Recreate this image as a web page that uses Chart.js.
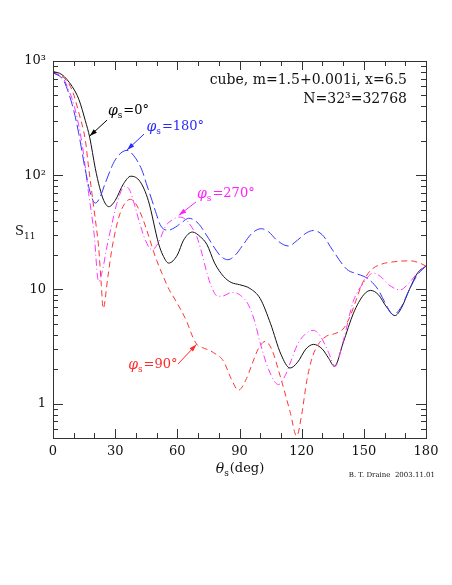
<!DOCTYPE html>
<html>
<head>
<meta charset="utf-8">
<script src="https://cdn.jsdelivr.net/npm/chart.js@4/dist/chart.umd.min.js"></script>
<style>
  body { margin: 0; background: #fff; }
  canvas { display: block; }
</style>
</head>
<body>
<canvas id="chart" width="452" height="585"></canvas>
<script>
// S11 vs scattering angle, cube m=1.5+0.001i, x=6.5
const thetaPhi0 = [0, 4.3, 9.2, 12.5, 15.6, 17.7, 20.4, 22.5, 24.5, 26.9, 30, 34, 37.6, 42, 46, 51, 53, 55.8, 60, 63, 67.3, 71, 74.3, 78, 82.3, 86, 90, 95, 100, 105, 110, 114.4, 118, 122, 125.7, 130, 133, 135.8, 140, 145, 150, 153.3, 157, 161, 165, 168, 172, 176, 180];
const s11Phi0 = [810, 760, 600, 460, 300, 215, 115, 78, 60, 53, 60, 84, 98, 88, 60, 25, 20, 17, 20, 27, 31.8, 29, 24.7, 17, 13, 11.5, 11, 10.2, 8.3, 5, 2.7, 2.05, 2.3, 3.0, 3.3, 3.0, 2.5, 2.12, 3.4, 6.2, 9.0, 9.8, 9.0, 7.0, 5.9, 6.8, 10, 14, 16];

const thetaPhi90 = [0, 5, 9.2, 12.5, 15.6, 17, 18.8, 20.5, 22, 23.3, 24.2, 26.5, 28.6, 31.8, 34.5, 37.3, 40, 43, 46, 47.8, 50, 52.6, 56, 59, 64.6, 67, 69.4, 72, 75, 77.4, 82.3, 86, 89.5, 93, 96, 99, 102.4, 105.5, 109.6, 114.4, 117.6, 120, 122.5, 125, 128, 132, 136, 140, 143, 146, 149, 153, 158, 165, 172, 176, 180];
const s11Phi90 = [790, 720, 556, 350, 203, 125, 69, 40, 23.6, 11, 6.8, 13, 23.6, 43, 56, 61.5, 56, 43, 30, 23.6, 18, 13.8, 10, 8.1, 5.2, 4.0, 3.3, 3.1, 2.95, 2.8, 2.35, 1.65, 1.31, 1.6, 2.2, 3.0, 3.5, 3.0, 1.75, 0.85, 0.52, 0.8, 1.6, 2.5, 3.3, 3.9, 4.1, 4.5, 5.6, 7.8, 11, 14.5, 16.5, 17.5, 17.8, 17.3, 16];

const thetaPhi180 = [0, 5, 7.6, 10, 12.4, 15.6, 18, 20.4, 22.5, 25.2, 30, 35.7, 39, 42.9, 45, 47.8, 50, 52, 55.5, 59, 62.5, 65.5, 70, 74, 78, 81, 84.4, 88, 92, 96, 100.5, 104, 108, 113.6, 118, 122, 125.7, 130, 135, 141.8, 146, 150, 153, 157, 160, 164.2, 168, 172, 176, 180];
const s11Phi180 = [790, 680, 520, 370, 233, 111, 70, 57, 63, 85, 136, 165, 148, 111, 85, 60, 45, 36, 33, 35, 39, 42, 38, 30, 23, 19.5, 18.2, 20, 25, 31, 34, 32, 27, 24, 27, 31, 32.8, 30, 22, 15, 13.8, 13, 12, 9.9, 7.8, 6.0, 7, 10, 13.5, 16];

const thetaPhi270 = [0, 5, 7.6, 10, 14, 17.2, 19.8, 22, 24, 26, 28.5, 31, 34.6, 37, 40, 41.4, 44.6, 47.8, 51, 54.2, 57, 60.7, 64, 67, 69.4, 71.8, 74.3, 76.7, 79.5, 82.5, 86, 88.5, 91, 94, 97, 100, 104, 108.8, 112, 115, 118, 122, 125.7, 129, 133, 136.1, 140, 144.9, 150, 154.6, 158, 162, 167.5, 172, 176, 180];
const s11Phi270 = [790, 700, 556, 420, 190, 69, 31, 11.7, 15, 23.6, 38, 58, 80, 74, 50, 40.5, 27, 22.2, 26, 35.5, 40, 43, 41, 35, 29, 20.8, 13.9, 10.3, 8.7, 8.8, 9.4, 9.3, 8.7, 7.5, 5.5, 3.4, 2.0, 1.47, 1.75, 2.4, 3.3, 4.1, 4.38, 3.9, 2.8, 2.12, 3.5, 7.85, 11.5, 13.9, 13, 11, 9.9, 11.5, 14, 16];

const xTickValues = [0, 30, 60, 90, 120, 150, 180];
const yTickValues = [1, 10, 100, 1000];
const yTickLabels = ['1', '10', '10²', '10³'];

const serif = '"DejaVu Serif", "Liberation Serif", serif';

function toPoints(xs, ys) {
  return xs.map((x, i) => ({ x: x, y: ys[i] }));
}

function drawArrow(ctx, x1, y1, x2, y2, color) {
  ctx.save();
  ctx.strokeStyle = color;
  ctx.fillStyle = color;
  ctx.lineWidth = 1;
  ctx.beginPath();
  ctx.moveTo(x1, y1);
  ctx.lineTo(x2, y2);
  ctx.stroke();
  const a = Math.atan2(y2 - y1, x2 - x1);
  const len = 8, w = 0.3;
  ctx.beginPath();
  ctx.moveTo(x2, y2);
  ctx.lineTo(x2 - len * Math.cos(a - w), y2 - len * Math.sin(a - w));
  ctx.lineTo(x2 - len * Math.cos(a + w), y2 - len * Math.sin(a + w));
  ctx.closePath();
  ctx.fill();
  ctx.restore();
}

// phi_s=... label, pieces drawn one after the other
function drawPhiLabel(ctx, x, y, rest, color, align) {
  const big = '13px ' + serif, ital = 'italic 14px ' + serif, small = '9px ' + serif;
  ctx.save();
  ctx.fillStyle = color;
  ctx.textBaseline = 'middle';
  ctx.textAlign = 'left';
  ctx.font = ital; const w1 = ctx.measureText('φ').width;
  ctx.font = small; const w2 = ctx.measureText('s').width;
  ctx.font = big; const w3 = ctx.measureText(rest).width;
  let x0 = align === 'right' ? x - (w1 + w2 + w3) : x;
  ctx.font = ital; ctx.fillText('φ', x0, y);
  ctx.font = small; ctx.fillText('s', x0 + w1, y + 5);
  ctx.font = big; ctx.fillText(rest, x0 + w1 + w2 + 1, y);
  ctx.restore();
}

const curveLabels = [
  { text: '=0°', color: '#000', at: [26.5, 365], from: [26.1, 304], tip: [17.7, 220], align: 'left' },
  { text: '=180°', color: '#2a2aff', at: [45.1, 264], from: [43.9, 229], tip: [35.7, 166], align: 'left' },
  { text: '=270°', color: '#ff20ff', at: [69.5, 68.5], from: [69.0, 58.3], tip: [60.7, 44.5], align: 'left' },
  { text: '=90°', color: '#ff2a2a', at: [59.6, 2.18], from: [60.3, 2.22], tip: [69.25, 3.3], align: 'right' }
];

const framePlugin = {
  id: 'frame',
  afterDraw(chart) {
    const ctx = chart.ctx;
    const a = chart.chartArea;
    const xs = chart.scales.x, ys = chart.scales.y;
    ctx.save();
    ctx.strokeStyle = '#333';
    ctx.lineWidth = 1;
    ctx.strokeRect(a.left + 0.5, a.top + 0.5, a.right - a.left, a.bottom - a.top);

    // x ticks, top and bottom, inside
    ctx.beginPath();
    for (let t = 0; t <= 180; t += 10) {
      const px = Math.round(xs.getPixelForValue(t)) + 0.5;
      const len = (t % 30 === 0) ? 9 : 5;
      ctx.moveTo(px, a.bottom); ctx.lineTo(px, a.bottom - len);
      ctx.moveTo(px, a.top); ctx.lineTo(px, a.top + len);
    }
    // y ticks, left and right, inside
    for (let d = 0.1; d < 1000; d *= 10) {
      for (let m = 1; m < 10; m++) {
        const v = Math.round(m * d * 1000) / 1000;
        if (v < 0.5 || v > 1000) continue;
        const py = Math.round(ys.getPixelForValue(v)) + 0.5;
        const len = m === 1 ? 10 : 5;
        ctx.moveTo(a.left, py); ctx.lineTo(a.left + len, py);
        ctx.moveTo(a.right, py); ctx.lineTo(a.right - len, py);
      }
    }
    const pyTop = Math.round(ys.getPixelForValue(1000)) + 0.5;
    ctx.moveTo(a.left, pyTop); ctx.lineTo(a.left + 10, pyTop);
    ctx.moveTo(a.right, pyTop); ctx.lineTo(a.right - 10, pyTop);
    ctx.stroke();

    // curve labels
    curveLabels.forEach(l => {
      const tx = xs.getPixelForValue(l.at[0]), ty = ys.getPixelForValue(l.at[1]);
      drawPhiLabel(ctx, tx, ty, l.text, l.color, l.align);
      drawArrow(ctx, xs.getPixelForValue(l.from[0]), ys.getPixelForValue(l.from[1]),
        xs.getPixelForValue(l.tip[0]), ys.getPixelForValue(l.tip[1]), l.color);
    });

    // annotation in the corner
    ctx.fillStyle = '#111';
    ctx.font = '14px ' + serif;
    ctx.textAlign = 'right';
    ctx.textBaseline = 'middle';
    ctx.fillText('cube, m=1.5+0.001i, x=6.5', a.right - 19, a.top + 19);
    ctx.fillText('N=32³=32768', a.right - 19, a.top + 38);

    // axis titles
    ctx.textAlign = 'left';
    ctx.font = 'italic 14px ' + serif;
    const cx = (a.left + a.right) / 2;
    const tw = ctx.measureText('θ').width;
    ctx.font = '9px ' + serif;
    const sw = ctx.measureText('s').width;
    ctx.font = '13px ' + serif;
    const dw = ctx.measureText('(deg)').width;
    let x0 = cx - (tw + sw + dw) / 2;
    const ty = a.bottom + 31;
    ctx.font = 'italic 14px ' + serif; ctx.fillText('θ', x0, ty);
    ctx.font = '9px ' + serif; ctx.fillText('s', x0 + tw, ty + 5);
    ctx.font = '13px ' + serif; ctx.fillText('(deg)', x0 + tw + sw + 1, ty);

    ctx.font = '13px ' + serif; ctx.fillText('S', 15, 232);
    ctx.font = '9px ' + serif; ctx.fillText('11', 24, 237);

    ctx.textAlign = 'right';
    ctx.font = '7px ' + serif;
    ctx.fillText('B. T. Draine  2003.11.01', 435, a.bottom + 37);
    ctx.restore();
  }
};

const lineStyle = {
  pointRadius: 0,
  borderWidth: 1,
  fill: false,
  cubicInterpolationMode: 'monotone'
};

new Chart(document.getElementById('chart').getContext('2d'), {
  type: 'line',
  data: {
    datasets: [
      Object.assign({ label: 'phi=180', data: toPoints(thetaPhi180, s11Phi180), borderColor: '#3535ff', borderDash: [11, 4] }, lineStyle),
      Object.assign({ label: 'phi=270', data: toPoints(thetaPhi270, s11Phi270), borderColor: '#ff35ff', borderDash: [7, 3, 1, 3] }, lineStyle),
      Object.assign({ label: 'phi=90', data: toPoints(thetaPhi90, s11Phi90), borderColor: '#ff3535', borderDash: [6, 4] }, lineStyle),
      Object.assign({ label: 'phi=0', data: toPoints(thetaPhi0, s11Phi0), borderColor: '#111' }, lineStyle)
    ]
  },
  options: {
    responsive: false,
    animation: false,
    devicePixelRatio: 1,
    layout: { padding: { top: 61, right: 26, left: 0, bottom: 0 } },
    plugins: { legend: { display: false }, tooltip: { enabled: false } },
    scales: {
      x: {
        type: 'linear',
        min: 0,
        max: 180,
        afterBuildTicks: s => { s.ticks = xTickValues.map(v => ({ value: v })); },
        ticks: { color: '#111', font: { family: serif, size: 13 }, padding: 6, maxRotation: 0 },
        grid: { display: false, drawTicks: false },
        border: { display: false },
        afterFit: s => { s.height = 147; }
      },
      y: {
        type: 'logarithmic',
        min: 0.5,
        max: 1000,
        afterBuildTicks: s => { s.ticks = yTickValues.map(v => ({ value: v })); },
        ticks: {
          color: '#111',
          font: { family: serif, size: 13 },
          padding: 7,
          callback: v => yTickLabels[yTickValues.indexOf(v)]
        },
        grid: { display: false, drawTicks: false },
        border: { display: false },
        afterFit: s => { s.width = 53; }
      }
    }
  },
  plugins: [framePlugin]
});
</script>
</body>
</html>
